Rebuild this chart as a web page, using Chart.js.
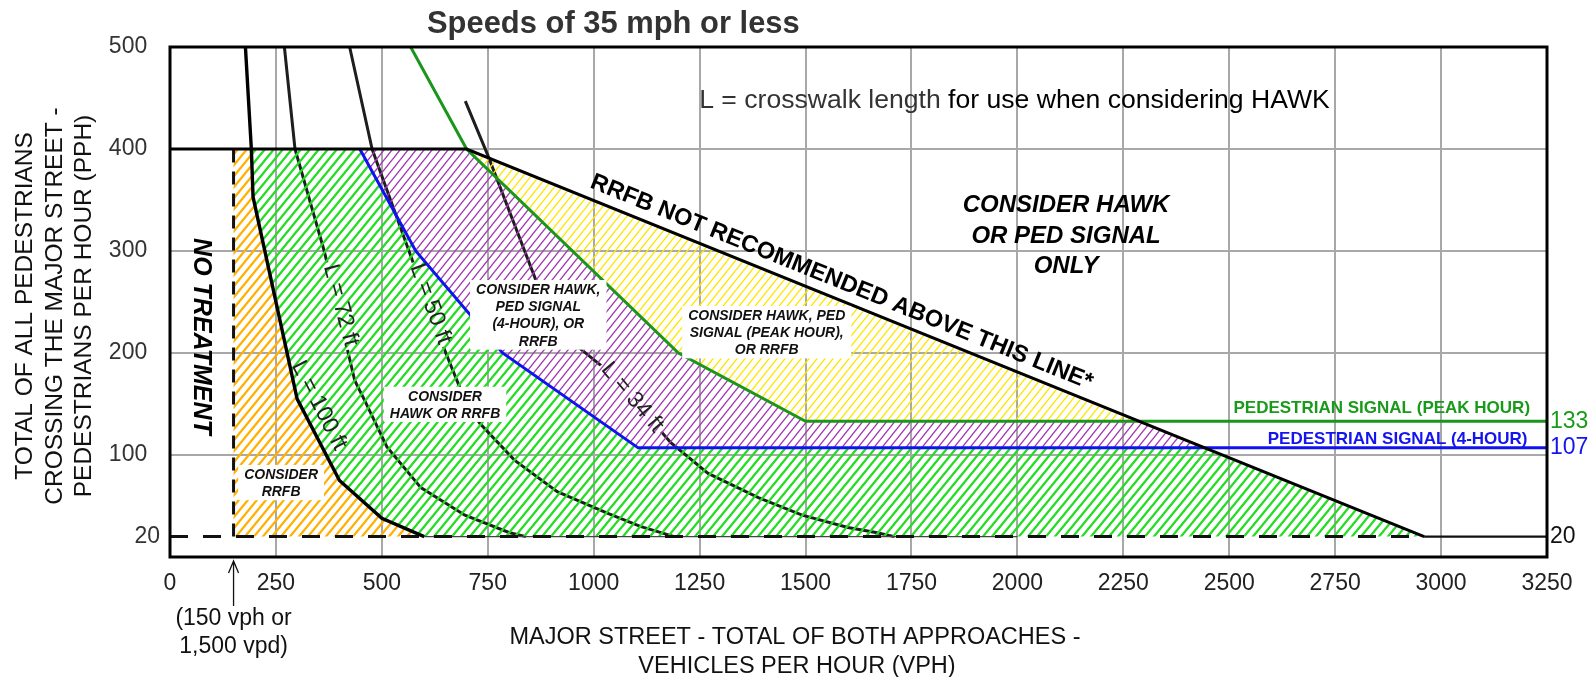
<!DOCTYPE html>
<html><head><meta charset="utf-8">
<script src="https://cdn.jsdelivr.net/npm/chart.js@4/dist/chart.umd.min.js"></script>
<style>html,body{margin:0;padding:0;background:#fff;}canvas{display:block;}</style>
</head><body>
<canvas id="c" width="1591" height="677" style="width:1591px;height:677px"></canvas>
<script>
// ---------------- data ----------------
const xTickStep = 250;
const xMax = 3250;
const yMax = 500;
const yLeftTicks = [20, 100, 200, 300, 400, 500];
const yRightTicks = [20, 107, 133];
const minPedestrians = 20;
const noTreatmentVph = 150;
const thinBaseEnd = 2000;

// crosswalk-length curves [vph, pph]
const L100 = [[178,500],[192,400],[196,353],[300,155],[400,75],[500,38],[600,20]];
const L72  = [[270,500],[295,400],[364,300],[436,173],[460,153],[512,108],[592,68],[696,41],[800,24],[840,20]];
const L50  = [[424,500],[477,400],[564,300],[651,200],[690,160],[731,131],[813,95],[914,64],[1032,43],[1110,30],[1190,20]];
const L34  = [[697,447],[750,394],[863,272],[960,207],[1040,180],[1182,112],[1270,82],[1390,58],[1492,41],[1600,29],[1666,24],[1710,20]];
// signal warrant lines
const peakHourSignal = [[568,500],[700,400],[1200,200],[1500,133],[3250,133]];
const fourHourSignal = [[448,400],[580,300],[785,200],[1105,107],[3250,107]];
// RRFB upper limit
const rrfbLimit = [[0,400],[700,400],[2960,20]];

// ---------------- derived geometry ----------------
function xAtY(line, y) {
  for (let i = 0; i < line.length - 1; i++) {
    const [x1,y1] = line[i], [x2,y2] = line[i+1];
    if (y1 !== y2 && (y1 - y) * (y2 - y) <= 0) return x1 + (y - y1) * (x2 - x1) / (y2 - y1);
  }
  return null;
}
const diag = rrfbLimit.slice(1);
const topY = rrfbLimit[0][1];
const endX = rrfbLimit[rrfbLimit.length-1][0];
const y133 = peakHourSignal[peakHourSignal.length-1][1];
const y107 = fourHourSignal[fourHourSignal.length-1][1];
const x133 = xAtY(diag, y133), x107 = xAtY(diag, y107);
const L100low = L100.filter(p => p[1] <= topY);
const fourIn = fourHourSignal.slice(0, -1);
const peakIn = peakHourSignal.slice(1, -1);

const orangePoly = [[noTreatmentVph, minPedestrians], [noTreatmentVph, topY], ...L100low];
const greenPoly  = [...fourIn, [x107, y107], [endX, minPedestrians], ...L100low.slice().reverse()];
const purplePoly = [...peakIn, [x133, y133], [x107, y107], ...fourIn.slice().reverse()];
const yellowPoly = [rrfbLimit[1], [x133, y133], ...peakIn.slice().reverse()];
const minLine = [[0, minPedestrians], [endX, minPedestrians]];
const rrfbTail = [[endX, minPedestrians], [xMax, minPedestrians]];
const noTreatLine = [[noTreatmentVph, minPedestrians], [noTreatmentVph, topY]];
const thinBase = [[L100[L100.length-1][0], minPedestrians], [thinBaseEnd, minPedestrians]];

// ---------------- styling helpers ----------------
const F = "'Liberation Sans', Arial, Helvetica, sans-serif";
const fnt = (style, size) => `${style} ${size}px ${F}`;
function hatch(color, w, h, lw) {
  const c = document.createElement('canvas'); c.width = w; c.height = h;
  const g = c.getContext('2d');
  g.strokeStyle = color; g.lineWidth = lw;
  g.beginPath();
  for (const k of [-1, 0, 1]) { g.moveTo(-w + k*w, 2*h); g.lineTo(2*w + k*w, -h); }
  g.stroke();
  return g.createPattern(c, 'repeat');
}
const pts = a => a.map(([x, y]) => ({x, y}));
const ds = (data, o) => Object.assign({data: pts(data), pointRadius: 0, pointHoverRadius: 0, tension: 0, fill: false}, o);
const polyDs = (data, pat, order) => ds(data, {fill: 'shape', backgroundColor: pat, borderColor: 'rgba(0,0,0,0)', borderWidth: 0, order});

const curveLabels = {
  L72:  {text: 'L = 72 ft',  x: 405,  y: 247,  angle: 75},
  L50:  {text: 'L = 50 ft',  x: 617,  y: 248.5, angle: 70},
  L34:  {text: 'L = 34 ft',  x: 1093, y: 157,  angle: 50},
  L100: {text: 'L = 100 ft', x: 354,  y: 149,  angle: 63}
};
const curveLabelFont = fnt('normal', 23);

const boxes = [
  {lines: ['CONSIDER', 'RRFB'], x: 262.2, y: 76.5},
  {lines: ['CONSIDER', 'HAWK OR RRFB'], x: 649.1, y: 153.2},
  {lines: ['CONSIDER HAWK,', 'PED SIGNAL', '(4-HOUR), OR', 'RRFB'], x: 869.2, y: 257.8},
  {lines: ['CONSIDER HAWK, PED', 'SIGNAL (PEAK HOUR),', 'OR RRFB'], x: 1408.4, y: 232.4}
];

function fit(ctx, text, style, width) {
  ctx.font = fnt(style, 100);
  return 100 * width / ctx.measureText(text).width;
}

const annot = {
  id: 'annot',
  beforeDatasetDraw(chart, args) {
    const d = chart.data.datasets[args.index];
    if (!d.labelGap) return;
    const lab = curveLabels[d.labelGap];
    const ctx = chart.ctx, X = chart.scales.x, Y = chart.scales.y;
    ctx.save();
    ctx.font = curveLabelFont;
    const w = ctx.measureText(lab.text).width + 6, h = 20;
    const cx = X.getPixelForValue(lab.x), cy = Y.getPixelForValue(lab.y);
    const a = lab.angle * Math.PI / 180, c = Math.cos(a), s = Math.sin(a);
    const cr = [[-w/2,-h/2],[w/2,-h/2],[w/2,h/2],[-w/2,h/2]].map(([u,v]) => [cx + u*c - v*s, cy + u*s + v*c]);
    ctx.beginPath();
    ctx.rect(0, 0, chart.width, chart.height);
    ctx.moveTo(cr[0][0], cr[0][1]);
    for (let i = 1; i < 4; i++) ctx.lineTo(cr[i][0], cr[i][1]);
    ctx.closePath();
    ctx.clip('evenodd');
  },
  afterDatasetDraw(chart, args) {
    if (chart.data.datasets[args.index].labelGap) chart.ctx.restore();
  },
  afterDatasetsDraw(chart) {
    const ctx = chart.ctx, X = chart.scales.x, Y = chart.scales.y, A = chart.chartArea;
    const xp = v => X.getPixelForValue(v), yp = v => Y.getPixelForValue(v);
    ctx.save();
    // frame
    ctx.strokeStyle = '#000'; ctx.lineWidth = 3;
    ctx.strokeRect(A.left, A.top, A.right - A.left, A.bottom - A.top);

    // curve labels
    ctx.fillStyle = '#222'; ctx.font = curveLabelFont; ctx.textAlign = 'center'; ctx.textBaseline = 'middle';
    for (const k in curveLabels) {
      const l = curveLabels[k];
      ctx.save(); ctx.translate(xp(l.x), yp(l.y)); ctx.rotate(l.angle * Math.PI / 180);
      ctx.fillText(l.text, 0, 1); ctx.restore();
    }

    // boxed labels
    ctx.font = fnt('italic bold', 14); ctx.textBaseline = 'alphabetic';
    for (const b of boxes) {
      const cx = xp(b.x), by = yp(b.y);
      const w = Math.max(...b.lines.map(t => ctx.measureText(t).width));
      const lh = 17.2;
      ctx.fillStyle = '#fff';
      ctx.fillRect(cx - w/2 - 6, by - 14, w + 12, (b.lines.length - 1) * lh + 18);
      ctx.fillStyle = '#111';
      b.lines.forEach((t, i) => ctx.fillText(t, cx, by + i * lh));
    }

    // NO TREATMENT
    ctx.save();
    ctx.translate(xp(72), yp(216.2)); ctx.rotate(Math.PI / 2);
    ctx.font = fnt('italic bold', 25); ctx.fillStyle = '#000'; ctx.textBaseline = 'middle';
    ctx.fillText('NO TREATMENT', 0, 0);
    ctx.restore();

    // CONSIDER HAWK OR PED SIGNAL ONLY
    ctx.font = fnt('italic bold', 24); ctx.fillStyle = '#000'; ctx.textBaseline = 'alphabetic';
    ['CONSIDER HAWK', 'OR PED SIGNAL', 'ONLY'].forEach((t, i) => ctx.fillText(t, xp(2115), yp(338.5) + i * 30.8));

    // RRFB NOT RECOMMENDED text along the limit line
    {
      const t = 'RRFB NOT RECOMMENDED ABOVE THIS LINE*';
      const size = fit(ctx, t, 'bold', 540);
      const ax = 1570, ay = xAtY(diag.map(p => [p[1], p[0]]), ax);
      const x1 = xp(diag[0][0]), y1 = yp(diag[0][1]), x2 = xp(diag[1][0]), y2 = yp(diag[1][1]);
      const ang = Math.atan2(y2 - y1, x2 - x1);
      ctx.save(); ctx.translate(xp(ax), yp(ay)); ctx.rotate(ang);
      ctx.font = fnt('bold', size); ctx.fillStyle = '#000'; ctx.textAlign = 'center'; ctx.textBaseline = 'alphabetic';
      ctx.fillText(t, 0, -10.5);
      ctx.restore();
    }

    // crosswalk note
    {
      const t1 = 'L = crosswalk length', t2 = ' for use when considering HAWK';
      const size = fit(ctx, t1 + t2, 'normal', 631);
      ctx.font = fnt('normal', size); ctx.textAlign = 'left'; ctx.textBaseline = 'alphabetic';
      const x0 = xp(1249), y0 = yp(440);
      ctx.fillStyle = '#333'; ctx.fillText(t1, x0, y0);
      ctx.fillStyle = '#000'; ctx.fillText(t2, x0 + ctx.measureText(t1).width, y0);
    }

    // signal labels
    ctx.font = fnt('bold', 17); ctx.textAlign = 'right';
    ctx.fillStyle = '#1a9a1a'; ctx.fillText('PEDESTRIAN SIGNAL (PEAK HOUR)', xp(3210), yp(141));
    ctx.fillStyle = '#1414ee'; ctx.fillText('PEDESTRIAN SIGNAL (4-HOUR)', xp(3204), yp(110.8));

    // title
    {
      const t = 'Speeds of 35 mph or less';
      const size = fit(ctx, t, 'bold', 373);
      ctx.font = fnt('bold', size); ctx.fillStyle = '#333'; ctx.textAlign = 'left';
      ctx.fillText(t, 427, 33);
    }

    // x axis title
    ctx.font = fnt('normal', 23.5); ctx.fillStyle = '#111'; ctx.textAlign = 'center';
    ctx.fillText('MAJOR STREET - TOTAL OF BOTH APPROACHES -', 795, 643.5);
    ctx.fillText('VEHICLES PER HOUR (VPH)', 797, 672.5);

    // y axis title
    ctx.save(); ctx.translate(0, 306); ctx.rotate(-Math.PI / 2);
    ctx.font = fnt('normal', 24.5); ctx.fillStyle = '#111'; ctx.textAlign = 'center';
    ctx.fillText('TOTAL OF ALL PEDESTRIANS', 0, 32);
    ctx.fillText('CROSSING THE MAJOR STREET -', 0, 61.5);
    ctx.fillText('PEDESTRIANS PER HOUR (PPH)', 0, 90.5);
    ctx.restore();

    // 150 vph arrow + note
    {
      const ax = xp(noTreatmentVph), t0 = A.bottom + 4;
      ctx.strokeStyle = '#111'; ctx.lineWidth = 1.3;
      ctx.beginPath();
      ctx.moveTo(ax, t0); ctx.lineTo(ax, t0 + 45);
      ctx.moveTo(ax - 5, t0 + 12); ctx.lineTo(ax, t0); ctx.lineTo(ax + 5, t0 + 12);
      ctx.stroke();
      ctx.font = fnt('normal', 23); ctx.fillStyle = '#111'; ctx.textAlign = 'center';
      ctx.fillText('(150 vph or', ax, 625);
      ctx.fillText('1,500 vpd)', ax, 653);
    }
    ctx.restore();
  }
};

const rightColors = {20: '#111', 107: '#1414ee', 133: '#1a9a1a'};
const gridColor = '#a8a8a8';

const chart = new Chart(document.getElementById('c'), {
  type: 'line',
  data: {
    datasets: [
      ds(L100, {borderColor: '#000', borderWidth: 3.4, order: 1}),
      ds(rrfbLimit, {borderColor: '#000', borderWidth: 3, order: 2}),
      ds(rrfbTail, {borderColor: '#111', borderWidth: 2.2, order: 2}),
      ds(minLine, {borderColor: '#111', borderWidth: 3, borderDash: [18, 15], order: 2}),
      ds(noTreatLine, {borderColor: '#111', borderWidth: 3, borderDash: [13, 9], order: 2}),
      ds(peakHourSignal, {borderColor: '#1a961a', borderWidth: 3, order: 3}),
      ds(fourHourSignal, {borderColor: '#1212f0', borderWidth: 3, order: 3}),
      ds(thinBase, {borderColor: '#444', borderWidth: 1.3, order: 4}),
      polyDs(orangePoly, hatch('#ffb000', 9, 11, 2.3), 5),
      polyDs(greenPoly, hatch('#22dd22', 9, 11, 2.3), 5),
      polyDs(purplePoly, hatch('#a33bb3', 8, 10, 1.4), 5),
      polyDs(yellowPoly, hatch('#ffe600', 8, 10, 1.4), 5),
      ds(L72, {borderColor: '#1e1e1e', borderWidth: 3, order: 6, labelGap: 'L72'}),
      ds(L50, {borderColor: '#1e1e1e', borderWidth: 3, order: 6, labelGap: 'L50'}),
      ds(L34, {borderColor: '#1e1e1e', borderWidth: 3, order: 6, labelGap: 'L34'})
    ]
  },
  options: {
    responsive: false, animation: false, events: [],
    layout: {padding: {top: 47, left: 0, right: 0, bottom: 0}},
    plugins: {legend: {display: false}, tooltip: {enabled: false}, title: {display: false}},
    scales: {
      x: {
        type: 'linear', min: 0, max: xMax,
        ticks: {stepSize: xTickStep, color: '#222', padding: 13, font: {family: F, size: 23}, maxRotation: 0,
                callback: v => String(v)},
        grid: {color: gridColor, lineWidth: 2, drawTicks: false},
        border: {display: false},
        afterFit(s) { s.height = 677 - 557; }
      },
      y: {
        min: 0, max: yMax,
        afterBuildTicks(s) { s.ticks = yLeftTicks.map(v => ({value: v})); },
        ticks: {color: '#333', padding: 10, font: {family: F, size: 23},
                callback: v => v === yLeftTicks[0] ? String(v) : v + '  '},
        grid: {color: c => (c.tick && c.tick.value === minPedestrians) ? 'rgba(0,0,0,0)' : gridColor, lineWidth: 2, drawTicks: false},
        border: {display: false},
        afterFit(s) { s.width = 170; }
      },
      y2: {
        position: 'right', min: 0, max: yMax,
        afterBuildTicks(s) { s.ticks = yRightTicks.map(v => ({value: v})); },
        ticks: {padding: 3, font: {family: F, size: 23}, color: c => rightColors[c.tick.value] || '#111',
                callback: v => String(v)},
        grid: {display: false, drawTicks: false},
        border: {display: false},
        afterFit(s) { s.width = 1591 - 1547; }
      }
    }
  },
  plugins: [annot]
});
</script>
</body></html>
